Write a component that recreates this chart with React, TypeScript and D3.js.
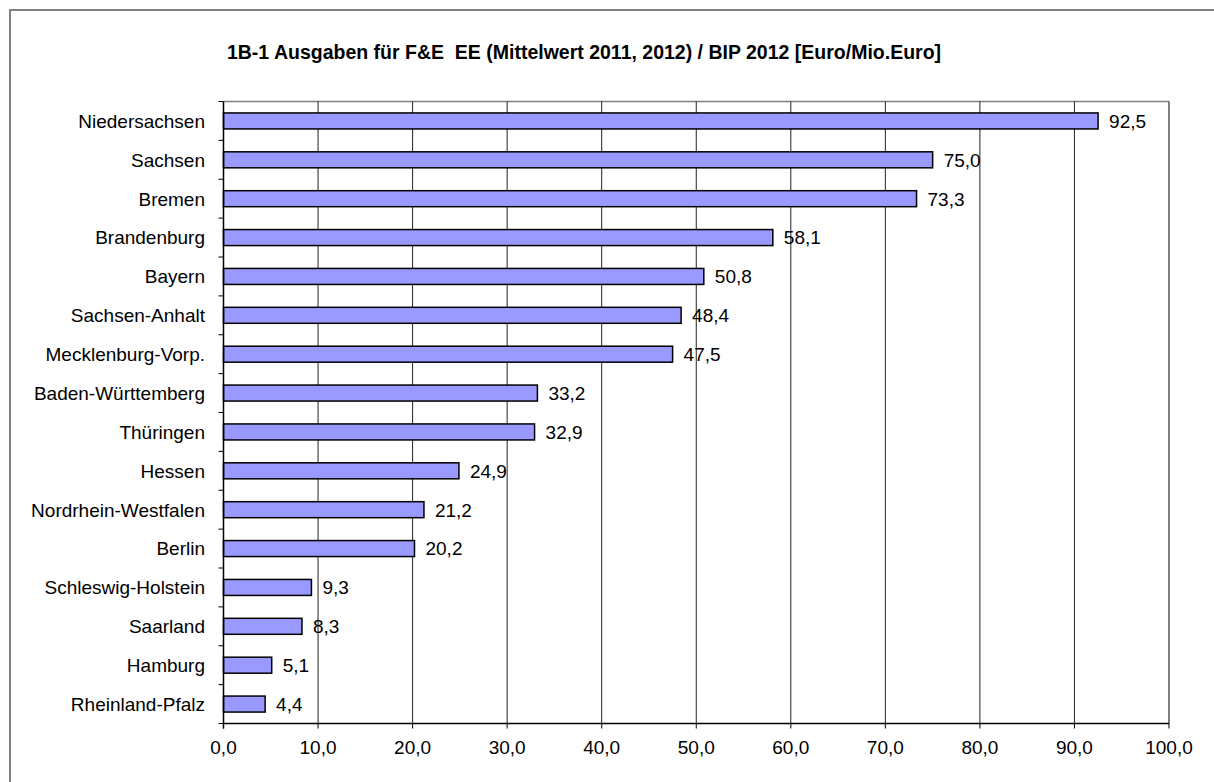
import React from "react";
import * as d3 from "d3";

const categories = [
  "Niedersachsen",
  "Sachsen",
  "Bremen",
  "Brandenburg",
  "Bayern",
  "Sachsen-Anhalt",
  "Mecklenburg-Vorp.",
  "Baden-Württemberg",
  "Thüringen",
  "Hessen",
  "Nordrhein-Westfalen",
  "Berlin",
  "Schleswig-Holstein",
  "Saarland",
  "Hamburg",
  "Rheinland-Pfalz",
];
const values = [92.5, 75.0, 73.3, 58.1, 50.8, 48.4, 47.5, 33.2, 32.9, 24.9, 21.2, 20.2, 9.3, 8.3, 5.1, 4.4];
const xTicks = [0, 10, 20, 30, 40, 50, 60, 70, 80, 90, 100];
const title = "1B-1 Ausgaben für F&E\u00a0 EE (Mittelwert 2011, 2012) / BIP 2012 [Euro/Mio.Euro]";

const W = 1214;
const H = 782;
const left = 223.5;
const right = 1169;
const top = 101.5;
const bottom = 723.5;
const font = "Arial, 'Liberation Sans', Helvetica, sans-serif";
const fs = 19;

const fmt = (v: number) => v.toFixed(1).replace(".", ",");

export default function App() {
  const x = d3.scaleLinear().domain([0, 100]).range([left, right]);
  const y = d3.scaleBand<string>().domain(categories).range([top, bottom]).paddingInner(0).paddingOuter(0);
  const bw = y.bandwidth();
  const barH = 16;
  const bounds = d3.range(categories.length + 1).map((i) => top + i * bw);

  return (
    <svg
      width={W}
      height={H}
      style={{ position: "absolute", left: 0, top: 0, background: "#fff" }}
      fontFamily={font}
    >
      <rect x={10} y={10} width={1300} height={900} fill="#fff" stroke="#808080" strokeWidth={2} />
      <text x={584} y={59} textAnchor="middle" fontWeight="bold" fontSize={19.5} fill="#000">
        {title}
      </text>
      {/* plot border top & right */}
      <line x1={left} x2={right} y1={top} y2={top} stroke="#808080" strokeWidth={1.5} />
      <line x1={right} x2={right} y1={top} y2={bottom} stroke="#555" strokeWidth={1.5} />
      {/* gridlines */}
      {xTicks.slice(1, -1).map((t) => (
        <line key={t} x1={x(t)} x2={x(t)} y1={top} y2={bottom} stroke="#222" strokeWidth={1} />
      ))}
      {/* bars */}
      {categories.map((c, i) => {
        const cy = (y(c) as number) + bw / 2;
        return (
          <g key={c}>
            <rect
              x={x(0)}
              y={cy - barH / 2}
              width={x(values[i]) - x(0)}
              height={barH}
              fill="#9999FF"
              stroke="#000"
              strokeWidth={1.5}
            />
            <text x={x(values[i]) + 11} y={cy} dy="0.36em" fontSize={fs} fill="#000">
              {fmt(values[i])}
            </text>
            <text x={205} y={cy} dy="0.36em" fontSize={fs} textAnchor="end" fill="#000">
              {c}
            </text>
          </g>
        );
      })}
      {/* y axis */}
      <line x1={left} x2={left} y1={top} y2={bottom + 5} stroke="#000" strokeWidth={1.5} />
      {bounds.map((b, i) => (
        <line key={i} x1={left - 5} x2={left} y1={b} y2={b} stroke="#000" strokeWidth={1} />
      ))}
      {/* x axis */}
      <line x1={left} x2={right} y1={bottom} y2={bottom} stroke="#000" strokeWidth={1.5} />
      {xTicks.map((t) => (
        <g key={t}>
          <line x1={x(t)} x2={x(t)} y1={bottom} y2={bottom + 5} stroke="#000" strokeWidth={1} />
          <text x={x(t)} y={753.5} textAnchor="middle" fontSize={fs} fill="#000">
            {fmt(t)}
          </text>
        </g>
      ))}
    </svg>
  );
}
